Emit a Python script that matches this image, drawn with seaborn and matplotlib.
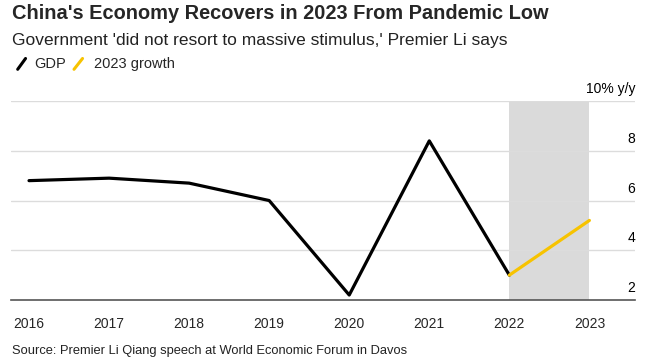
import numpy as np
import pandas as pd
import seaborn as sns
import matplotlib.pyplot as plt
from matplotlib.lines import Line2D

years = [2016, 2017, 2018, 2019, 2020, 2021, 2022, 2023]
gdp = [6.8, 6.9, 6.7, 6.0, 2.2, 8.4, 3.0, 5.2]
y_ticks = [2, 4, 6, 8, 10]
y_labels = ['2', '4', '6', '8', '10% y/y']

hist = pd.DataFrame({'year': years[:7], 'value': gdp[:7]})
growth = pd.DataFrame({'year': years[6:], 'value': gdp[6:]})

sns.set_style('white')
plt.rcParams['font.family'] = ['Liberation Sans', 'DejaVu Sans']

fig = plt.figure(figsize=(6.55, 3.61), dpi=100)
ax = fig.add_axes([0.0168, 0.169, 0.9527, 0.551])

# shaded 2023 projection window
ax.axvspan(years[6], years[7], color='#dadada', lw=0, zorder=0)

sns.lineplot(data=hist, x='year', y='value', color='black', lw=2.3, ax=ax, zorder=3)
sns.lineplot(data=growth, x='year', y='value', color='#f7c300', lw=2.3, ax=ax, zorder=3)

ax.set_xlim(2015.775, 2023.57)
ax.set_ylim(2, 10)
ax.set_xlabel('')
ax.set_ylabel('')

for t in y_ticks[1:]:
    ax.axhline(t, color='#dcdcdc', lw=1, zorder=1)

ax.set_yticks([])
for t, lab in zip(y_ticks, y_labels):
    ax.text(1.0, t + 0.2, lab, transform=ax.get_yaxis_transform(),
            ha='right', va='bottom', fontsize=10, color='black')

ax.set_xticks(years)
ax.set_xticklabels([str(y) for y in years], fontsize=10)
ax.tick_params(axis='x', direction='out', length=5, width=1, color='#555555', pad=7)

for s in ['top', 'right', 'left']:
    ax.spines[s].set_visible(False)
ax.spines['bottom'].set_color('#555555')
ax.spines['bottom'].set_linewidth(1.2)

fig.text(0.018, 0.947, "China's Economy Recovers in 2023 From Pandemic Low",
         fontsize=14.4, fontweight='bold', ha='left', va='baseline')
fig.text(0.018, 0.875, "Government 'did not resort to massive stimulus,' Premier Li says",
         fontsize=12.5, ha='left', va='baseline', color='#222222')

# legend
fig.add_artist(Line2D([0.027, 0.039], [0.808, 0.838], color='black', lw=2.2))
fig.text(0.052, 0.823, 'GDP', fontsize=10.5, ha='left', va='center')
fig.add_artist(Line2D([0.113, 0.126], [0.808, 0.838], color='#f7c300', lw=2.2))
fig.text(0.1435, 0.823, '2023 growth', fontsize=10.5, ha='left', va='center')

fig.text(0.018, 0.0285, 'Source: Premier Li Qiang speech at World Economic Forum in Davos',
         fontsize=9.3, ha='left', va='center', color='#222222')

fig.savefig('out.png', dpi=100)
